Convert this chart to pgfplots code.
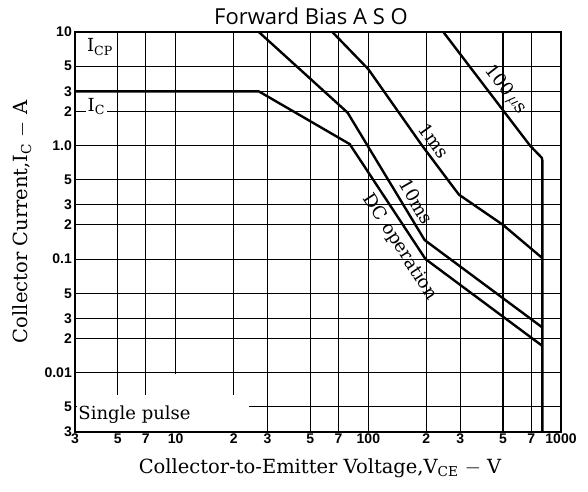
\documentclass[border=0pt]{standalone}
\usepackage{pgfplots}
\pgfplotsset{compat=1.18}
\usepackage{fontspec}
\setmainfont{DejaVu Serif}
\newfontfamily\titlefont{Open Sans}
\newfontfamily\tickfont{Liberation Sans}
\tikzset{curve/.style={black, line width=2.4pt, line join=round},
         lbl/.style={font=\fontsize{18}{18}\selectfont, inner sep=0pt}}
\begin{document}
\begin{tikzpicture}
\begin{axis}[
  name=ax,
  xmode=log, ymode=log,
  scale only axis, width=486pt, height=400pt,
  xmin=3, xmax=1000, ymin=0.003, ymax=10,
  xtick={3,5,7,10,20,30,50,70,100,200,300,500,700,1000},
  xticklabels={3,5,7,\raisebox{-7pt}{10},2,3,5,7,\raisebox{-7pt}{100},2,3,5,7,\raisebox{-7pt}{1000}},
  ytick={0.003,0.005,0.01,0.02,0.03,0.05,0.1,0.2,0.3,0.5,1,2,3,5,10},
  yticklabels={3,5,0.01,2,3,5,0.1,2,3,5,1.0,2,3,5,10},
  major tick length=0pt, minor tick length=0pt,
  grid=major,
  grid style={black, line width=1.1pt},
  axis line style={black, line width=1.6pt},
  tick label style={font=\tickfont\bfseries\fontsize{14}{14}\selectfont, inner sep=1pt},
  yticklabel style={xshift=-2pt},
  xticklabel style={yshift=-1pt},
  no markers,
]
\fill[white] (axis cs:3.06,0.00306) rectangle (axis cs:24,0.0063);
\fill[white] (axis cs:9.6,0.0062) rectangle (axis cs:10.4,0.0098);

\addplot[curve] coordinates {(245,10) (690,1.0) (795,0.78) (800,0.74) (800,0.003)};
\addplot[curve] coordinates {(65,10) (100,4.7) (190,1.0) (295,0.37) (500,0.2) (800,0.102)};
\addplot[curve] coordinates {(27,10) (78,1.95) (196,0.147) (800,0.025)};
\addplot[curve] coordinates {(3,3) (27,3) (80,1.03) (198,0.1) (800,0.0172)};

\node[lbl, rotate=-52, anchor=south, inner sep=6pt] at (axis cs:449,2.6) {100\,$\mu$s};
\node[lbl, rotate=-54, anchor=south, inner sep=5.5pt] at (axis cs:195,0.943) {1ms};
\node[lbl, rotate=-60, anchor=south, inner sep=6pt] at (axis cs:155,0.283) {10ms};
\node[lbl, rotate=-57, anchor=north, inner sep=6pt] at (axis cs:169,0.15) {DC operation};
\node[lbl, anchor=base west, fill=white, inner sep=2pt] at (axis cs:3.4,2.0) {I\textsubscript{C}};
\node[lbl, anchor=base west] at (axis cs:3.46,6.67) {I\textsubscript{CP}};
\node[lbl, anchor=base west] at (axis cs:3.12,0.0039) {Single pulse};
\end{axis}
\node[font=\titlefont\fontsize{22}{22}\selectfont, anchor=base] at ([shift={(236pt,407pt)}]ax.south west) {Forward Bias A S O};
\node[font=\fontsize{19.5}{19.5}\selectfont, anchor=base] at ([shift={(245pt,-41pt)}]ax.south west) {Collector-to-Emitter Voltage,V\textsubscript{CE} $-$ V};
\node[font=\fontsize{19.5}{19.5}\selectfont, rotate=90, anchor=base] at ([shift={(-47pt,210pt)}]ax.south west) {Collector Current,I\textsubscript{C} $-$ A};
\pgfresetboundingbox
\path[use as bounding box] ([shift={(-75pt,-59pt)}]ax.south west) rectangle ([shift={(513pt,432pt)}]ax.south west);
\end{tikzpicture}
\end{document}
